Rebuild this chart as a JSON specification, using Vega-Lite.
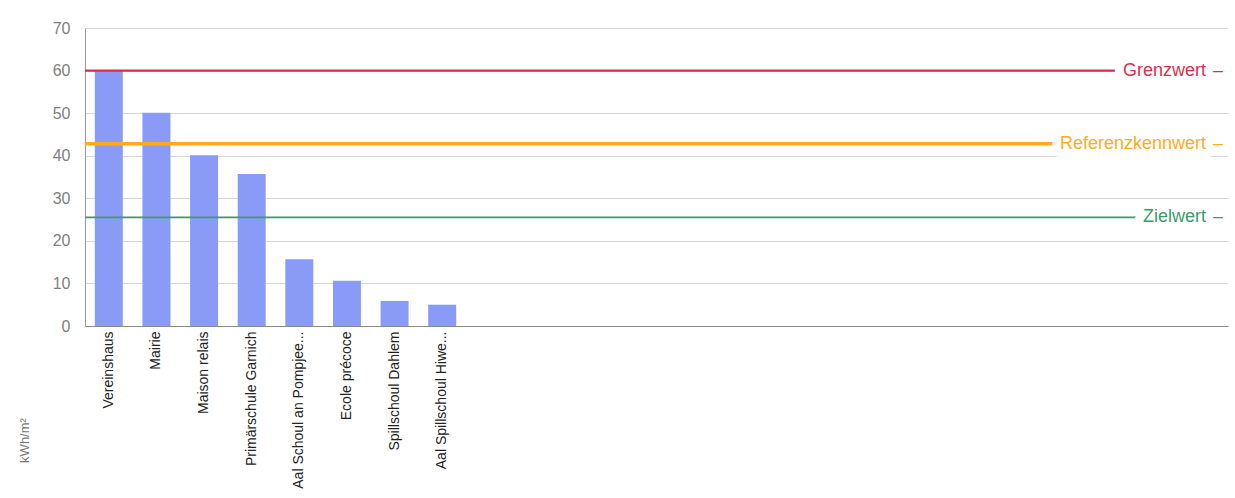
{
  "$schema": "https://vega.github.io/schema/vega-lite/v6.json",
  "width": 1143,
  "height": 298,
  "autosize": {"type": "none"},
  "padding": {"left": 85, "top": 28, "right": 7, "bottom": 172},
  "background": "white",
  "config": {
    "view": {"stroke": null},
    "font": "Liberation Sans",
    "axis": {"labelFont": "Liberation Sans", "titleFont": "Liberation Sans"}
  },
  "datasets": {
    "bars": [
      {"name": "Vereinshaus", "kwh": 60.1},
      {"name": "Mairie", "kwh": 50.1},
      {"name": "Maison relais", "kwh": 40.1},
      {"name": "Primärschule Garnich", "kwh": 35.7},
      {"name": "Aal Schoul an Pompjee...", "kwh": 15.7},
      {"name": "Ecole précoce", "kwh": 10.6},
      {"name": "Spillschoul Dahlem", "kwh": 5.9},
      {"name": "Aal Spillschoul Hiwe...", "kwh": 5.0}
    ],
    "refs": [
      {"label": "Grenzwert", "value": 60},
      {"label": "Referenzkennwert", "value": 42.8},
      {"label": "Zielwert", "value": 25.5}
    ]
  },
  "layer": [
    {
      "data": {"name": "bars"},
      "mark": {"type": "bar", "color": "#8a9bf7"},
      "encoding": {
        "x": {
          "field": "name", "type": "nominal", "sort": null,
          "scale": {
            "domain": ["Vereinshaus", "Mairie", "Maison relais", "Primärschule Garnich", "Aal Schoul an Pompjee...", "Ecole précoce", "Spillschoul Dahlem", "Aal Spillschoul Hiwe...",
              " ", "  ", "   ", "    ", "     ", "      ", "       ", "        ", "         ", "          ", "           ", "            ", "             ", "              ", "               ", "                "],
            "paddingInner": 0.412, "paddingOuter": 0.206
          },
          "axis": {
            "title": null, "labelAngle": -90, "labelFontSize": 14, "labelColor": "#222",
            "ticks": false, "labelPadding": 5, "domainColor": "#8a8a8a", "labelLimit": 200
          }
        },
        "y": {
          "field": "kwh", "type": "quantitative",
          "scale": {"domain": [0, 70], "nice": false},
          "axis": {
            "values": [0, 10, 20, 30, 40, 50, 60, 70],
            "title": "kWh/m²", "titleFontSize": 13, "titleColor": "#777", "titleFontWeight": "normal",
            "titleX": -54, "titleY": 412, "titleAngle": -90, "titleAlign": "center",
            "labelFontSize": 16, "labelColor": "#808080", "labelPadding": 15, "ticks": false,
            "domainColor": "#999", "gridColor": "#d8d8d8", "gridWidth": 1
          }
        }
      }
    },
    {
      "data": {"name": "refs"},
      "mark": {"type": "rule"},
      "encoding": {
        "y": {"field": "value", "type": "quantitative"},
        "color": {
          "field": "label", "type": "nominal", "legend": null,
          "scale": {"domain": ["Grenzwert", "Referenzkennwert", "Zielwert"], "range": ["#d9304a", "#ffab1d", "#3d9a6c"]}
        },
        "strokeWidth": {
          "field": "label", "type": "nominal", "legend": null,
          "scale": {"type": "ordinal", "domain": ["Grenzwert", "Referenzkennwert", "Zielwert"], "range": [2.2, 3.4, 1.8]}
        }
      }
    },
    {
      "data": {"name": "refs"},
      "mark": {"type": "text", "align": "right", "baseline": "middle", "dx": -22, "fontSize": 18, "stroke": "white", "strokeWidth": 18, "strokeJoin": "round", "fill": "white"},
      "encoding": {
        "x": {"value": "width"},
        "y": {"field": "value", "type": "quantitative"},
        "text": {"field": "label"}
      }
    },
    {
      "data": {"name": "refs"},
      "mark": {"type": "text", "align": "center", "baseline": "middle", "dx": -10, "fontSize": 18, "stroke": "white", "strokeWidth": 18, "strokeJoin": "round", "fill": "white", "text": "–"},
      "encoding": {
        "x": {"value": "width"},
        "y": {"field": "value", "type": "quantitative"}
      }
    },
    {
      "data": {"name": "refs"},
      "mark": {"type": "text", "align": "right", "baseline": "middle", "dx": -22, "fontSize": 18},
      "encoding": {
        "x": {"value": "width"},
        "y": {"field": "value", "type": "quantitative"},
        "text": {"field": "label"},
        "color": {
          "field": "label", "type": "nominal", "legend": null,
          "scale": {"domain": ["Grenzwert", "Referenzkennwert", "Zielwert"], "range": ["#d9304a", "#ffab1d", "#3d9a6c"]}
        }
      }
    },
    {
      "data": {"name": "refs"},
      "mark": {"type": "text", "align": "center", "baseline": "middle", "dx": -10, "fontSize": 18, "text": "–"},
      "encoding": {
        "x": {"value": "width"},
        "y": {"field": "value", "type": "quantitative"},
        "color": {
          "field": "label", "type": "nominal", "legend": null,
          "scale": {"domain": ["Grenzwert", "Referenzkennwert", "Zielwert"], "range": ["#d9304a", "#ffab1d", "#3d9a6c"]}
        }
      }
    }
  ]
}
